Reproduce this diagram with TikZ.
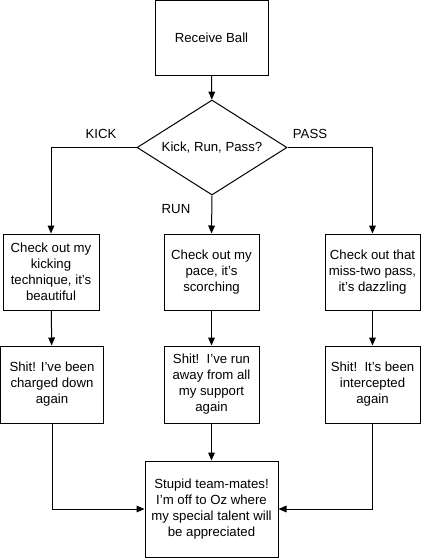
\documentclass[tikz,border=0pt]{standalone}
\usepackage{fontspec}
\setmainfont{Liberation Sans}
\usetikzlibrary{shapes.geometric,arrows.meta}
\begin{document}
\begin{tikzpicture}[x=0.75pt,y=-0.75pt,
  every node/.style={font=\fontsize{9.9}{12}\selectfont},
  box/.style={draw,line width=0.75pt,rectangle,inner sep=0pt,align=center},
  dec/.style={draw,line width=0.75pt,diamond,aspect=1.58,inner sep=0pt,minimum width=150*0.75pt,minimum height=95*0.75pt},
  lbl/.style={inner sep=0pt},
  arr/.style={line width=0.75pt,-{Triangle[length=6pt,width=5pt]}}]
\useasboundingbox (0,0) rectangle (421,558);
\node[box,minimum width=113*0.75pt,minimum height=75*0.75pt] (rb) at (211.5,38) {Receive Ball};
\node[dec] (d) at (212,147.5) {Kick, Run, Pass?};
\node[box,minimum width=96*0.75pt,minimum height=76*0.75pt] (k1) at (51,272) {Check out my\\kicking\\technique, it’s\\beautiful};
\node[box,minimum width=95*0.75pt,minimum height=76*0.75pt] (r1) at (211.5,272) {Check out my\\pace, it’s\\scorching};
\node[box,minimum width=95*0.75pt,minimum height=76*0.75pt] (p1) at (372.5,272) {Check out that\\miss-two pass,\\it’s dazzling};
\node[box,minimum width=103*0.75pt,minimum height=77*0.75pt] (k2) at (52,384.5) {Shit! I’ve been\\charged down\\again};
\node[box,minimum width=95*0.75pt,minimum height=77*0.75pt] (r2) at (211.5,384.5) {Shit!\ \ I’ve run\\away from all\\my support\\again};
\node[box,minimum width=95*0.75pt,minimum height=77*0.75pt] (p2) at (372.5,384.5) {Shit!\ \ It’s been\\intercepted\\again};
\node[box,minimum width=133*0.75pt,minimum height=96*0.75pt] (f) at (211.5,509) {Stupid team-mates!\\I’m off to Oz where\\my special talent will\\be appreciated};
\node[lbl] (lk) at (101,134) {KICK};
\node[lbl] (lp) at (310,134) {PASS};
\node[lbl] (lr) at (176,209) {RUN};
\draw[arr] (rb) -- (d);
\draw[arr] (d.west) -| (k1.north);
\draw[arr] (d.south) -- (r1.north);
\draw[arr] (d.east) -| (p1.north);
\draw[arr] (k1) -- (k2);
\draw[arr] (r1) -- (r2);
\draw[arr] (p1) -- (p2);
\draw[arr] (k2.south) |- (f.west);
\draw[arr] (r2.south) -- (f.north);
\draw[arr] (p2.south) |- (f.east);
\end{tikzpicture}
\end{document}
